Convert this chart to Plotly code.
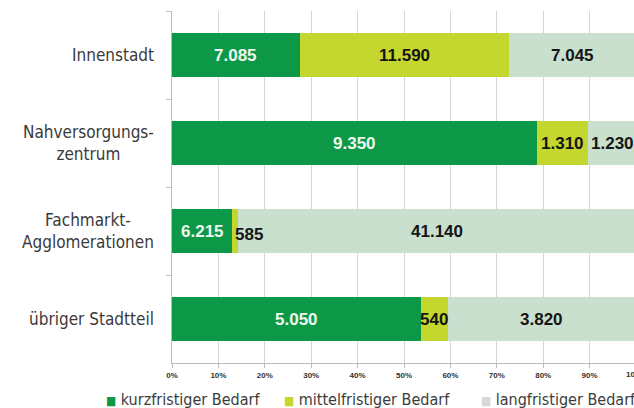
import plotly.graph_objects as go

# ---- data ----
categories = ["Innenstadt", "Nahversorgungs-<br>zentrum", "Fachmarkt-<br>Agglomerationen", "übriger Stadtteil"]
series_names = ["kurzfristiger Bedarf", "mittelfristiger Bedarf", "langfristiger Bedarf"]
kurzfristig = [7085, 9350, 6215, 5050]
mittelfristig = [11590, 1310, 585, 540]
langfristig = [7045, 1230, 41140, 3820]
tick_values = [0, 10, 20, 30, 40, 50, 60, 70, 80, 90, 100]
tick_labels = ["0%", "10%", "20%", "30%", "40%", "50%", "60%", "70%", "80%", "90%", "100%"]

# ---- styles ----
colors = ["#0d9847", "#c4d72e", "#c9e0cf"]
legend_colors = ["#0d9847", "#c4d72e", "#d6d9d6"]
label_colors = ["#eef8ee", "#151515", "#151515"]
label_font = "Liberation Sans, Arial, sans-serif"
cat_font = "Liberation Sans Narrow, DejaVu Sans Condensed, sans-serif"
x_max = 99.57

series = [kurzfristig, mittelfristig, langfristig]

fig = go.Figure()
for name, vals, col in zip(series_names, series, colors):
    fig.add_trace(go.Bar(
        y=categories, x=vals, name=name, orientation="h",
        marker=dict(color=col, line=dict(width=0)),
        hoverinfo="skip", showlegend=False,
    ))

def de(v):
    return f"{v:,}".replace(",", ".")

annotations = []
# value labels
for ci, cat in enumerate(categories):
    total = sum(s[ci] for s in series)
    start = 0.0
    for si, s in enumerate(series):
        share = s[ci] / total * 100
        mid = start + share / 2
        xshift = 0
        yshift = 0
        if si == 1 and share < 2:
            xshift = 14
            yshift = -3
        annotations.append(dict(
            x=mid, y=cat, xref="x", yref="y", text=de(s[ci]), showarrow=False,
            xanchor="center", xshift=xshift, yshift=yshift,
            font=dict(family=label_font, size=17, color=label_colors[si], weight="bold"),
        ))
        start += share

# category labels
for cat in categories:
    annotations.append(dict(
        x=0, y=cat, xref="paper", yref="y", text=cat, showarrow=False,
        xanchor="right", align="center", xshift=-16,
        font=dict(family=cat_font, size=17, color="#3a3a3a"),
    ))

# 100% tick label (partly outside the window)
annotations.append(dict(
    x=100 / x_max, y=0, xref="paper", yref="paper", xanchor="center", yanchor="top", yshift=-5,
    text=tick_labels[-1], showarrow=False,
    font=dict(family=label_font, size=8, color="#333333", weight="bold"),
))

# legend
legend_x = [-0.1472, 0.238, 0.6645]
for name, col, lx in zip(series_names, legend_colors, legend_x):
    annotations.append(dict(
        x=lx, y=-0.105, xref="paper", yref="paper", xanchor="left", yanchor="middle",
        text=f"<span style='color:{col};font-size:12px'>■</span> {name}",
        showarrow=False,
        font=dict(family=cat_font, size=16, color="#3c3c3c"),
    ))

fig.update_layout(
    width=634, height=408,
    margin=dict(l=172, r=0, t=11, b=45, pad=0),
    paper_bgcolor="white", plot_bgcolor="white",
    barmode="stack", barnorm="percent", bargap=0.49,
    annotations=annotations,
    showlegend=False,
)
fig.update_xaxes(
    range=[0, x_max], tickvals=tick_values, ticktext=tick_labels,
    showgrid=True, gridcolor="#d4d4d4", gridwidth=1,
    zeroline=False, showline=True, linecolor="#bdbdbd", linewidth=1,
    ticks="outside", ticklen=4, tickcolor="#bdbdbd",
    tickfont=dict(family=label_font, size=8, color="#333333", weight="bold"),
)
fig.update_yaxes(
    type="category", range=[3.5, -0.5], tickson="boundaries",
    showgrid=False, zeroline=False, showline=True, linecolor="#bdbdbd", linewidth=1,
    ticks="outside", ticklen=5, tickcolor="#bdbdbd", showticklabels=False,
)

fig.write_html("out.html")
